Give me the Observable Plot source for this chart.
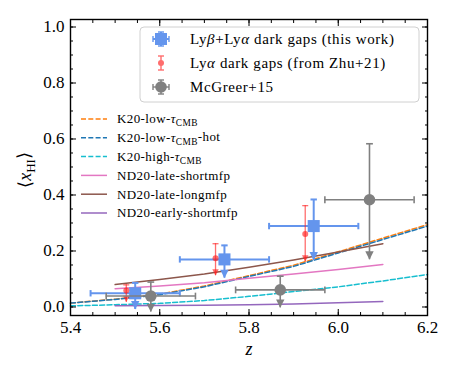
<!DOCTYPE html>
<html><head><meta charset="utf-8">
<script src="https://cdn.jsdelivr.net/npm/d3@7"></script>
<script src="https://cdn.jsdelivr.net/npm/@observablehq/plot@0.6"></script>
<style>body{margin:0;background:#fff}</style>
</head><body><div id="chart"></div>
<script>
// ---- model curves ----
const zK20 = [5.4, 5.5, 5.6, 5.7, 5.8, 5.9, 6.0, 6.1, 6.2];
const k20Low = [0.014, 0.028, 0.046, 0.075, 0.112, 0.149, 0.197, 0.246, 0.294];
const k20LowHot = [0.014, 0.027, 0.044, 0.072, 0.109, 0.145, 0.193, 0.241, 0.289];
const k20High = [0.004, 0.008, 0.013, 0.023, 0.038, 0.055, 0.072, 0.093, 0.116];
const zND20 = [5.5, 5.6, 5.7, 5.8, 5.9, 6.0, 6.1];
const nd20LateShort = [0.065, 0.075, 0.087, 0.103, 0.118, 0.134, 0.152];
const nd20LateLong = [0.080, 0.098, 0.118, 0.142, 0.168, 0.196, 0.226];
const nd20EarlyShort = [0.004, 0.005, 0.006, 0.008, 0.011, 0.015, 0.020];
// ---- this work (Ly beta + Ly alpha dark gaps) ----
const ourZ = [5.545, 5.745, 5.945];
const ourZerr = [0.1, 0.1, 0.1];
const ourX = [0.049, 0.170, 0.289];
const ourUp = [0.086, 0.220, 0.384];
const ourArrow = [-0.009, 0.103, 0.166];
// ---- Zhu+21 ----
const zhuZ = [5.525, 5.725, 5.926];
const zhuX = [0.059, 0.174, 0.261];
const zhuUp = [0.079, 0.226, 0.362];
const zhuArrow = [0.017, 0.112, 0.162];
// ---- McGreer+15 ----
const mcgZ = [5.58, 5.87, 6.07];
const mcgZerr = [0.1, 0.1, 0.1];
const mcgX = [0.039, 0.061, 0.383];
const mcgUp = [0.089, 0.110, 0.583];
const mcgArrow = [-0.018, -0.003, 0.169];
// ---- ticks ----
const xMajor = [5.4, 5.6, 5.8, 6.0, 6.2];
const xMinor = d3.range(0, 17).map(i => 5.4 + i * 0.05);
const yMajor = [0.0, 0.2, 0.4, 0.6, 0.8, 1.0];
const yMinor = d3.range(0, 21).map(i => i * 0.05);

const FONT = "Liberation Serif";
const zip = (xs, ys) => xs.map((x, i) => ({x, y: ys[i]}));
const pts = (z, v, up, ar, ze) => z.map((d, i) => ({z: d, v: v[i], up: up[i], ar: ar[i], lo: ze ? d - ze[i] : d, hi: ze ? d + ze[i] : d}));
const our = pts(ourZ, ourX, ourUp, ourArrow, ourZerr);
const zhu = pts(zhuZ, zhuX, zhuUp, zhuArrow, null);
const mcg = pts(mcgZ, mcgX, mcgUp, mcgArrow, mcgZerr);

const hline = {draw(c, s) { const r = Math.sqrt(s / Math.PI); c.moveTo(-r, 0); c.lineTo(r, 0); }};
const vline = {draw(c, s) { const r = Math.sqrt(s / Math.PI); c.moveTo(0, -r); c.lineTo(0, r); }};
const triDown = {draw(c, s) { const r = Math.sqrt(s / Math.PI); c.moveTo(0, 0); c.lineTo(-r, -2 * r); c.lineTo(r, -2 * r); c.closePath(); }};

function errMarks(data, color, o) {
  const m = [];
  if (o.xerr) {
    m.push(Plot.ruleY(data, {y: "v", x1: "lo", x2: "hi", stroke: color, strokeWidth: o.lw, strokeOpacity: o.op}));
    m.push(Plot.dot(data, {x: "lo", y: "v", symbol: vline, r: o.cap, stroke: color, strokeWidth: o.lw, strokeOpacity: o.op}));
    m.push(Plot.dot(data, {x: "hi", y: "v", symbol: vline, r: o.cap, stroke: color, strokeWidth: o.lw, strokeOpacity: o.op}));
  }
  m.push(Plot.ruleX(data, {x: "z", y1: "ar", y2: "up", stroke: color, strokeWidth: o.lw, strokeOpacity: o.op}));
  m.push(Plot.dot(data, {x: "z", y: "up", symbol: hline, r: o.cap, stroke: color, strokeWidth: o.lw, strokeOpacity: o.op}));
  m.push(Plot.dot(data, {x: "z", y: "ar", symbol: triDown, r: o.tri, fill: color, fillOpacity: o.op, stroke: "none"}));
  m.push(Plot.dot(data, {x: "z", y: "v", symbol: o.sym, r: o.r, fill: color, fillOpacity: o.op, stroke: "none"}));
  return m;
}

const lineStyle = (c, dash) => ({x: "x", y: "y", stroke: c, strokeWidth: 1.5, strokeDasharray: dash ? "5,2.3" : null});
const axText = {tickSize: 0, tickFormat: d => d.toFixed(1), fontSize: 17, fill: "#000", label: null};

const plot = Plot.plot({
  width: 457, height: 377,
  marginLeft: 70, marginRight: 30, marginTop: 19, marginBottom: 62,
  style: {background: "#fff", color: "#000"},
  x: {domain: [5.4, 6.2]},
  y: {domain: [-0.0304, 1.0268]},
  marks: [
    Plot.line(zip(zK20, k20Low), lineStyle("#ff7f0e", true)),
    Plot.line(zip(zK20, k20LowHot), lineStyle("#1f77b4", true)),
    Plot.line(zip(zK20, k20High), lineStyle("#17becf", true)),
    Plot.line(zip(zND20, nd20LateShort), lineStyle("#e377c2", false)),
    Plot.line(zip(zND20, nd20LateLong), lineStyle("#8c564b", false)),
    Plot.line(zip(zND20, nd20EarlyShort), lineStyle("#9467bd", false)),
    ...errMarks(our, "#6495ed", {xerr: true, lw: 2, cap: 3.2, tri: 4.2, sym: "square", r: 6.8, op: 1}),
    ...errMarks(zhu, "#ff2020", {xerr: false, lw: 1.3, cap: 3, tri: 3.2, sym: "circle", r: 3, op: 0.65}),
    ...errMarks(mcg, "#808080", {xerr: true, lw: 1.6, cap: 3.4, tri: 4.2, sym: "circle", r: 5.8, op: 1}),
    Plot.axisX({anchor: "bottom", ticks: xMajor, tickPadding: 5, ...axText}),
    Plot.axisX({anchor: "bottom", ticks: xMajor, tickSize: -6, fill: "none", label: null}),
    Plot.axisX({anchor: "bottom", ticks: xMinor, tickSize: -3, fill: "none", label: null}),
    Plot.axisX({anchor: "top", ticks: xMajor, tickSize: -6, fill: "none", label: null}),
    Plot.axisX({anchor: "top", ticks: xMinor, tickSize: -3, fill: "none", label: null}),
    Plot.axisY({anchor: "left", ticks: yMajor, tickPadding: 6, ...axText}),
    Plot.axisY({anchor: "left", ticks: yMajor, tickSize: -6, fill: "none", label: null}),
    Plot.axisY({anchor: "left", ticks: yMinor, tickSize: -3, fill: "none", label: null}),
    Plot.axisY({anchor: "right", ticks: yMajor, tickSize: -6, fill: "none", label: null}),
    Plot.axisY({anchor: "right", ticks: yMinor, tickSize: -3, fill: "none", label: null}),
    Plot.frame({stroke: "#000", strokeWidth: 1.4})
  ]
});
document.getElementById("chart").appendChild(plot);

// ---- axis labels and legends ----
const svg = d3.select(plot);
const ns = (sel, parts) => {
  for (const p of parts) {
    const t = sel.append("tspan").text(p.t);
    if (p.i) t.attr("font-style", "italic");
    if (p.sub) t.attr("font-size", "0.72em").attr("dy", "0.3em");
    if (p.up) t.attr("dy", "-0.3em");
  }
  return sel;
};
svg.append("text").attr("x", 249).attr("y", 355).attr("text-anchor", "middle")
  .attr("font-size", 18).attr("font-style", "italic").attr("fill", "#000").text("z");
ns(svg.append("text").attr("transform", "translate(31,170) rotate(-90)").attr("text-anchor", "middle")
  .attr("font-size", 18).attr("fill", "#000"),
  [{t: "\u27E8"}, {t: "x", i: true}, {t: "HI", sub: true}, {t: "\u27E9", up: true}]);

// legend 1 (data points)
const lg = svg.append("g").attr("text-anchor", "start");
lg.append("rect").attr("x", 140).attr("y", 27).attr("width", 279).attr("height", 75).attr("rx", 4)
  .attr("fill", "#fff").attr("fill-opacity", 0.85).attr("stroke", "#d0d0d0").attr("stroke-width", 1);
const leg1 = [
  {c: "#6495ed", op: 1, sym: "sq", parts: [{t: "Ly"}, {t: "\u03B2", i: true}, {t: "+Ly"}, {t: "\u03B1", i: true}, {t: " dark gaps (this work)"}]},
  {c: "#ff2020", op: 0.65, sym: "dot", parts: [{t: "Ly"}, {t: "\u03B1", i: true}, {t: " dark gaps (from Zhu+21)"}]},
  {c: "#808080", op: 1, sym: "circ", parts: [{t: "McGreer+15"}]}
];
leg1.forEach((e, i) => {
  const cy = 39 + 24 * i, cx = 161;
  const g = lg.append("g").attr("stroke", e.c).attr("fill", e.c).attr("opacity", e.op);
  const hx = e.sym === "dot" ? 0 : 8, hy = 7;
  g.append("line").attr("x1", cx).attr("x2", cx).attr("y1", cy - hy).attr("y2", cy + hy).attr("stroke-width", e.sym === "sq" ? 2 : 1.4);
  g.append("line").attr("x1", cx - 3).attr("x2", cx + 3).attr("y1", cy - hy).attr("y2", cy - hy).attr("stroke-width", 1.4);
  g.append("line").attr("x1", cx - 3).attr("x2", cx + 3).attr("y1", cy + hy).attr("y2", cy + hy).attr("stroke-width", 1.4);
  if (hx) {
    g.append("line").attr("x1", cx - hx).attr("x2", cx + hx).attr("y1", cy).attr("y2", cy).attr("stroke-width", e.sym === "sq" ? 2 : 1.4);
    g.append("line").attr("x1", cx - hx).attr("x2", cx - hx).attr("y1", cy - 3).attr("y2", cy + 3).attr("stroke-width", 1.4);
    g.append("line").attr("x1", cx + hx).attr("x2", cx + hx).attr("y1", cy - 3).attr("y2", cy + 3).attr("stroke-width", 1.4);
  }
  if (e.sym === "sq") g.append("rect").attr("x", cx - 6).attr("y", cy - 6).attr("width", 12).attr("height", 12).attr("stroke", "none");
  else g.append("circle").attr("cx", cx).attr("cy", cy).attr("r", e.sym === "dot" ? 3 : 5.8).attr("stroke", "none");
  ns(lg.append("text").attr("x", 190).attr("y", cy).attr("dy", "0.34em").attr("font-size", 15).attr("letter-spacing", 0.6).attr("fill", "#000"), e.parts);
});

// legend 2 (models)
const leg2 = [
  {c: "#ff7f0e", d: true, parts: [{t: "K20-low-"}, {t: "\u03C4", i: true}, {t: "CMB", sub: true}]},
  {c: "#1f77b4", d: true, parts: [{t: "K20-low-"}, {t: "\u03C4", i: true}, {t: "CMB", sub: true}, {t: "-hot", up: true}]},
  {c: "#17becf", d: true, parts: [{t: "K20-high-"}, {t: "\u03C4", i: true}, {t: "CMB", sub: true}]},
  {c: "#e377c2", d: false, parts: [{t: "ND20-late-shortmfp"}]},
  {c: "#8c564b", d: false, parts: [{t: "ND20-late-longmfp"}]},
  {c: "#9467bd", d: false, parts: [{t: "ND20-early-shortmfp"}]}
];
const lg2 = svg.append("g").attr("text-anchor", "start");
leg2.forEach((e, i) => {
  const cy = 119 + 18.8 * i;
  lg2.append("line").attr("x1", 81).attr("x2", 107).attr("y1", cy).attr("y2", cy)
    .attr("stroke", e.c).attr("stroke-width", 1.5).attr("stroke-dasharray", e.d ? "5,2.3" : null);
  ns(lg2.append("text").attr("x", 117).attr("y", cy).attr("dy", "0.34em").attr("font-size", 13).attr("letter-spacing", 0.4).attr("fill", "#000"), e.parts);
});

// force the serif face on every text element
svg.attr("font-family", FONT);
svg.selectAll("text, g").attr("font-family", FONT);
svg.selectAll("text").each(function () { this.style.fontFamily = FONT; });
</script>
</body></html>
